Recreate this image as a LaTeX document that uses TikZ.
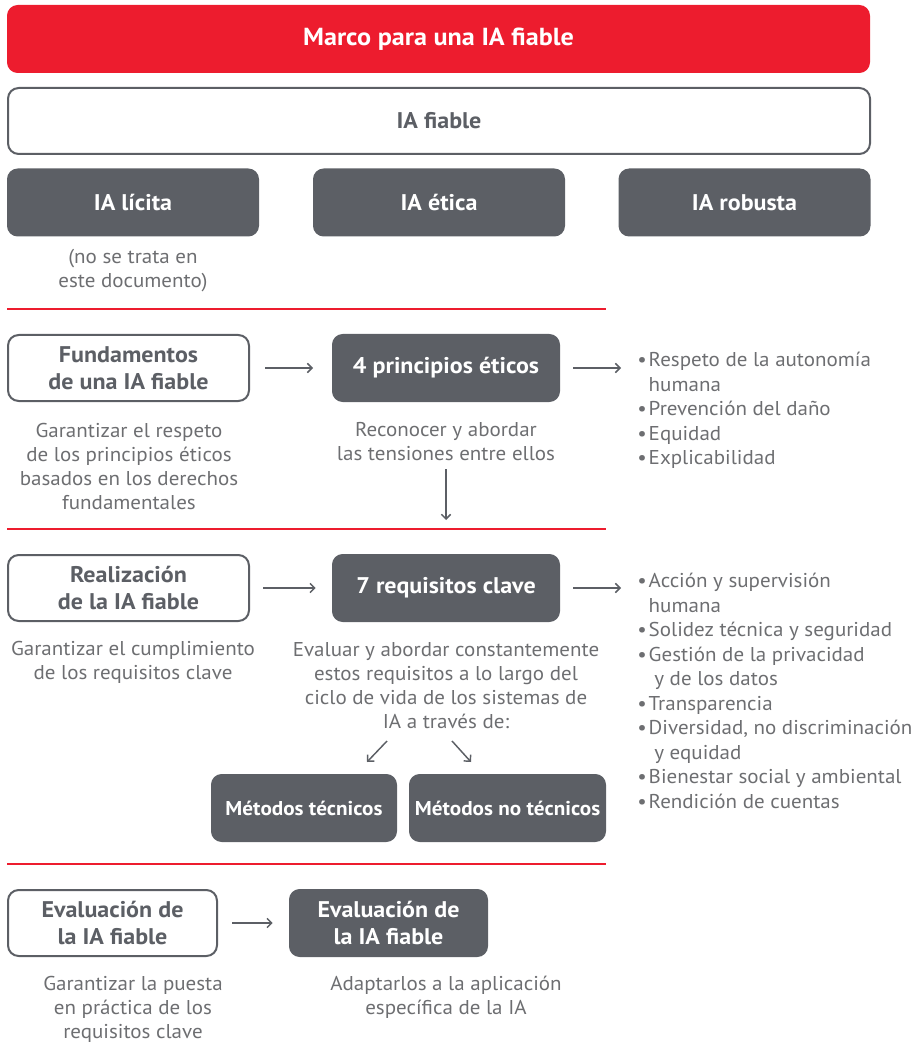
\documentclass[tikz,border=0pt]{standalone}
\usepackage{fontspec}
\setmainfont{PT Sans}[FakeStretch=1.05]
\newfontfamily\lblfont{PT Sans}[FakeStretch=1.06]
\usetikzlibrary{arrows.meta}
\definecolor{brandred}{HTML}{ED1C2E}
\definecolor{slate}{HTML}{5C5F65}
\definecolor{softtext}{HTML}{6D6E71}
\newcommand{\bul}{\makebox[8.6pt][l]{•}}
\newcommand{\ind}{\hspace*{8.6pt}}
\begin{document}
\begin{tikzpicture}[x=0.75pt,y=-0.75pt,
  box/.style={rounded corners=8pt, inner sep=0pt, align=center,
    font=\lblfont\bfseries\fontsize{17}{20.25}\selectfont},
  darkbox/.style={box, fill=slate, text=white, minimum height=51pt},
  openbox/.style={box, draw=slate, line width=1.5pt, fill=white, text=slate, minimum height=49.5pt},
  methodbox/.style={darkbox, font=\lblfont\bfseries\fontsize{15}{18}\selectfont},
  note/.style={align=center, text=softtext, inner sep=0pt, font=\fontsize{15}{18}\selectfont},
  bullets/.style={align=left, text=softtext, inner sep=0pt, anchor=west, font=\fontsize{15}{18.35}\selectfont},
  flow/.style={draw=slate, line width=1.1pt, -{Straight Barb[length=3.5pt,width=7pt]}},
  divider/.style={draw=brandred, line width=1.5pt}]

\useasboundingbox (0,0) rectangle (919,1044);

% header
\node[box, fill=brandred, text=white, minimum width=647.25pt, minimum height=51pt,
      font=\lblfont\bfseries\fontsize{18.5}{22}\selectfont] (marco) at (438.5,39) {Marco para una IA fiable};
\node[openbox, minimum width=646.5pt] (fiable) at (439,121) {IA fiable};
\node[darkbox, minimum width=189pt] (licita) at (133,202.5) {IA lícita};
\node[darkbox, minimum width=189pt] (etica) at (439,202.5) {IA ética};
\node[darkbox, minimum width=189pt] (robusta) at (744.5,202.5) {IA robusta};
\node[note] (nota) at (133,271) {(no se trata en\\este documento)};

% dividers
\coordinate (d1a) at (7,309);  \coordinate (d1b) at (606,309);
\coordinate (d2a) at (7,529);  \coordinate (d2b) at (606,529);
\coordinate (d3a) at (7,864);  \coordinate (d3b) at (606,864);
\path[divider] (d1a) -- (d1b);
\path[divider] (d2a) -- (d2b);
\path[divider] (d3a) -- (d3b);

% fundamentos
\node[openbox, minimum width=180.75pt] (fund) at (128.5,368) {Fundamentos\\de una IA fiable};
\node[darkbox, minimum width=171pt] (princ) at (446,368) {4 principios éticos};
\node[note] (fundtxt) at (129,466) {Garantizar el respeto\\de los principios éticos\\basados en los derechos\\fundamentales};
\node[note] (recon) at (446,442) {Reconocer y abordar\\las tensiones entre ellos};
\node[bullets] (lista1) at (637,410.5) {\bul Respeto de la autonomía\\\ind humana\\\bul Prevención del daño\\\bul Equidad\\\bul Explicabilidad};
\coordinate (downend) at (446,520);

\path[flow, shorten <=11.25pt, shorten >=14pt] (fund.east) -- (princ.west);
\path[flow, shorten <=9.75pt, shorten >=12pt] (princ.east) -- (princ.east -| lista1.west);
\path[flow, shorten <=6pt] (recon.south) -- (downend);

% realizacion
\node[openbox, minimum width=180.75pt] (real) at (128.5,588) {Realización\\de la IA fiable};
\node[darkbox, minimum width=171pt] (req) at (446,588) {7 requisitos clave};
\node[note] (realtxt) at (133,662) {Garantizar el cumplimiento\\de los requisitos clave};
\node[note] (evaltxt) at (446,686) {Evaluar y abordar constantemente\\estos requisitos a lo largo del\\ciclo de vida de los sistemas de\\IA a través de:};
\node[bullets] (lista2) at (637,691) {\bul Acción y supervisión\\\ind humana\\\bul Solidez técnica y seguridad\\\bul Gestión de la privacidad\\\ind\ y de los datos\\\bul Transparencia\\\bul Diversidad, no discriminación\\\ind\ y equidad\\\bul Bienestar social y ambiental\\\bul Rendición de cuentas};
\node[methodbox, minimum width=139.5pt] (mtec) at (304,808) {Métodos técnicos};
\node[methodbox, minimum width=147.75pt] (mnotec) at (507.5,808) {Métodos no técnicos};
\coordinate (dl1) at (387,741); \coordinate (dl2) at (367,762);
\coordinate (dr1) at (452,741); \coordinate (dr2) at (471,762);

\path[flow, shorten <=9.75pt, shorten >=12pt] (real.east) -- (req.west);
\path[flow, shorten <=9.75pt, shorten >=12pt] (req.east) -- (req.east -| lista2.west);
\path[flow] (dl1) -- (dl2);
\path[flow] (dr1) -- (dr2);

% evaluacion
\node[openbox, minimum width=156.75pt] (ev1) at (112.5,923) {Evaluación de\\la IA fiable};
\node[darkbox, minimum width=149.25pt] (ev2) at (388.5,923) {Evaluación de\\la IA fiable};
\node[note] (ev1txt) at (133,1009) {Garantizar la puesta\\en práctica de los\\requisitos clave};
\node[note] (ev2txt) at (446,997) {Adaptarlos a la aplicación\\específica de la IA};
\path[flow, shorten <=10.5pt, shorten >=12pt] (ev1.east) -- (ev2.west);

\end{tikzpicture}
\end{document}
